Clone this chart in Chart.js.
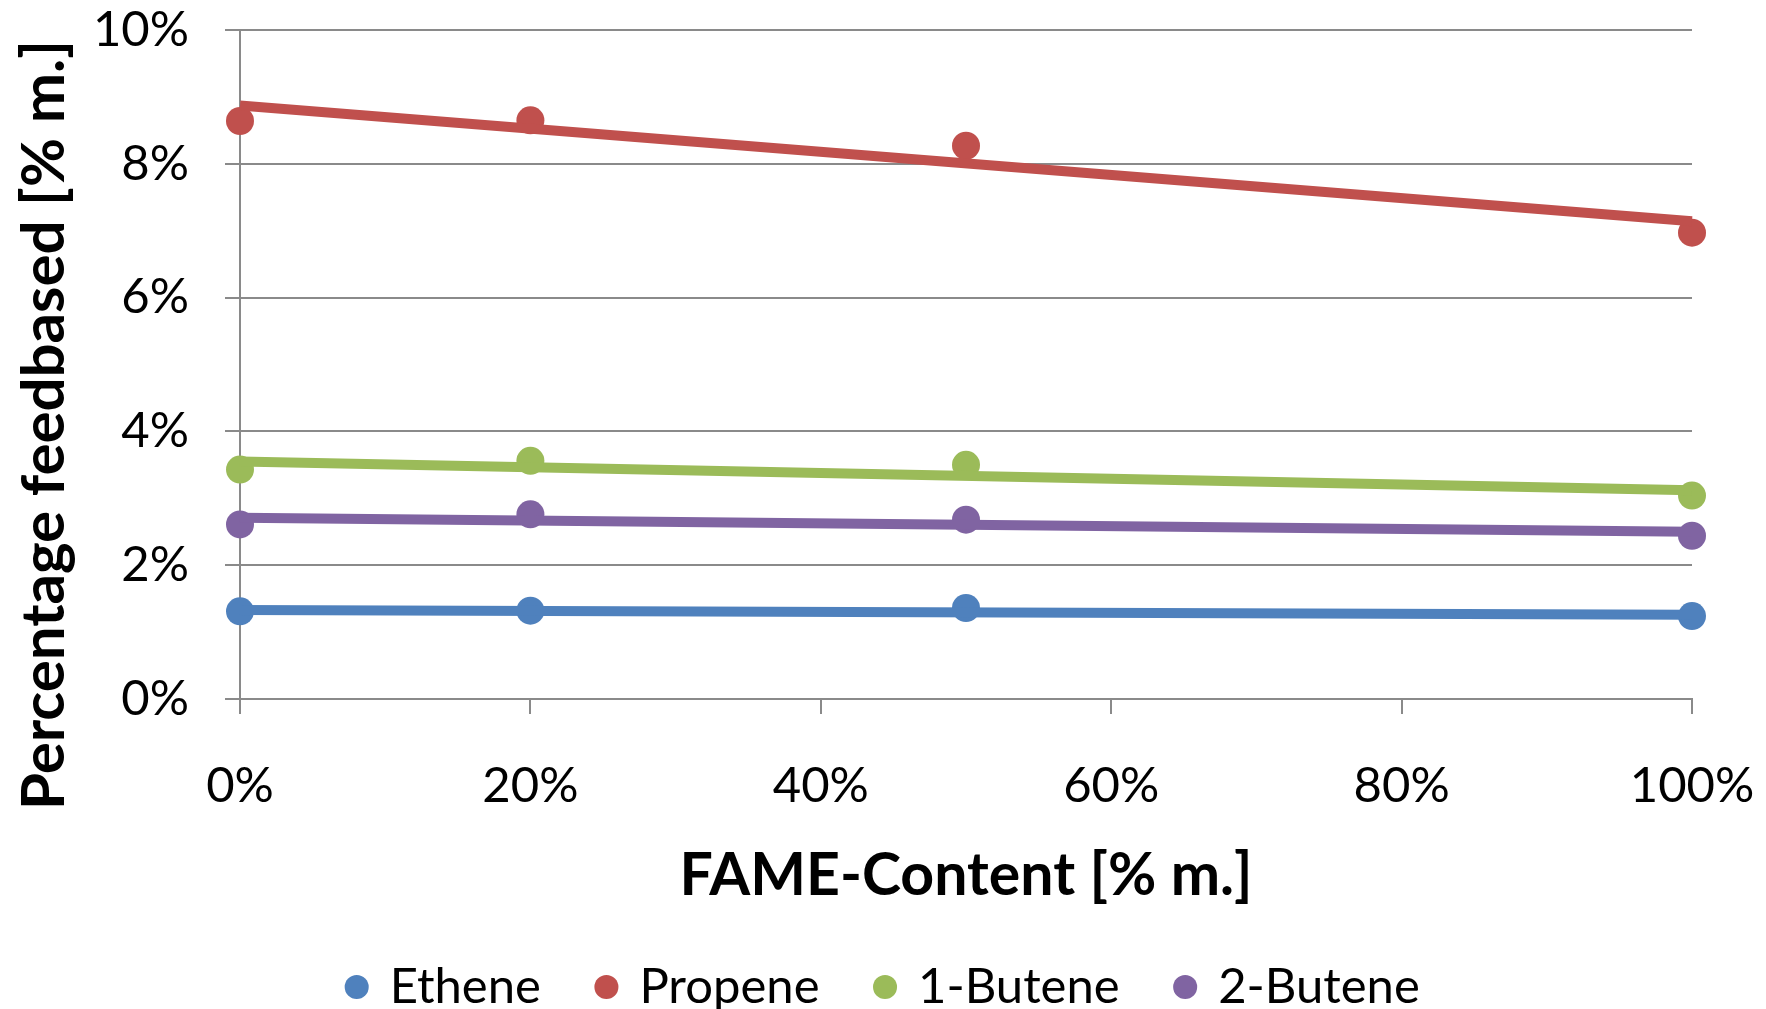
<!DOCTYPE html>
<html>
<head>
<meta charset="utf-8">
<script src="https://cdn.jsdelivr.net/npm/chart.js@4/dist/chart.umd.min.js"></script>
<style>
  html, body { margin: 0; padding: 0; background: #fff; }
  #wrap { width: 1766px; height: 1009px; }
</style>
</head>
<body>
<div id="wrap"><canvas id="c" width="1766" height="1009"></canvas></div>
<script>
// FAME content of the feed [% m.]
const fameContent = [0, 20, 50, 100];

// Measured olefin yields, feed based [% m.]
const ethene  = [1.31, 1.32, 1.36, 1.24];
const propene = [8.64, 8.65, 8.27, 6.97];
const butene1 = [3.43, 3.56, 3.50, 3.04];
const butene2 = [2.61, 2.76, 2.68, 2.44];

// Linear trend lines, start and end values
const trendX       = [0, 100];
const etheneTrend  = [1.33, 1.26];
const propeneTrend = [8.87, 7.14];
const butene1Trend = [3.55, 3.12];
const butene2Trend = [2.71, 2.50];

const seriesNames = ['Ethene', 'Propene', '1-Butene', '2-Butene'];
const seriesColors = ['#4F81BD', '#C0504D', '#9BBB59', '#8064A2'];

const xTicks = [0, 20, 40, 60, 80, 100];
const yTicks = [0, 2, 4, 6, 8, 10];

const measured = [ethene, propene, butene1, butene2];
const trends = [etheneTrend, propeneTrend, butene1Trend, butene2Trend];

const toPoints = (xs, ys) => xs.map((x, i) => ({ x: x, y: ys[i] }));

const datasets = [];
measured.forEach((vals, i) => {
  datasets.push({
    type: 'scatter',
    label: seriesNames[i],
    data: toPoints(fameContent, vals),
    backgroundColor: seriesColors[i],
    borderColor: seriesColors[i],
    borderWidth: 0,
    pointStyle: 'circle',
    pointRadius: 14,
    pointHoverRadius: 14,
    clip: false,
    order: 2
  });
});
trends.forEach((vals, i) => {
  datasets.push({
    type: 'line',
    label: seriesNames[i] + ' trend',
    isTrend: true,
    data: toPoints(trendX, vals),
    borderColor: seriesColors[i],
    backgroundColor: seriesColors[i],
    borderWidth: 10,
    pointRadius: 0,
    fill: false,
    tension: 0,
    clip: false,
    order: 1
  });
});

// Rotated y-axis title, placed on the left margin
const yTitlePlugin = {
  id: 'yTitle',
  afterDraw(chart) {
    const ctx = chart.ctx;
    ctx.save();
    ctx.translate(45, 425);
    ctx.rotate(-Math.PI / 2);
    ctx.font = 'bold 60px Lato';
    ctx.fillStyle = '#000';
    ctx.textAlign = 'center';
    ctx.textBaseline = 'middle';
    ctx.fillText('Percentage feedbased [% m.]', 0, 0);
    ctx.restore();
  }
};

// Scales keep their fixed box sizes; label overhang is handled by the layout padding
const noScalePadding = (scale) => {
  scale.paddingTop = 0;
  scale.paddingBottom = 0;
  scale.paddingLeft = 0;
  scale.paddingRight = 0;
};

const gridGrey = '#8a8a8a';

new Chart(document.getElementById('c'), {
  data: { datasets: datasets },
  options: {
    responsive: false,
    animation: false,
    devicePixelRatio: 1,
    layout: { autoPadding: false, padding: { left: 76, right: 74, top: 30, bottom: -12.5 } },
    plugins: {
      tooltip: { enabled: false },
      legend: {
        position: 'bottom',
        labels: {
          filter: (item, data) => !data.datasets[item.datasetIndex].isTrend,
          usePointStyle: true,
          pointStyle: 'circle',
          boxWidth: 17,
          boxHeight: 17,
          padding: 57,
          color: '#000',
          font: { family: 'Lato', size: 49 }
        }
      }
    },
    scales: {
      x: {
        type: 'linear',
        min: 0,
        max: 100,
        afterBuildTicks: (scale) => { scale.ticks = xTicks.map(v => ({ value: v })); },
        afterFit: (scale) => { scale.height = 206.5; noScalePadding(scale); },
        ticks: {
          callback: (v) => v + '%',
          color: '#000',
          padding: 43,
          maxRotation: 0,
          font: { family: 'Lato', size: 49 }
        },
        grid: {
          drawOnChartArea: false,
          drawTicks: true,
          tickLength: 15,
          color: gridGrey,
          lineWidth: 2
        },
        border: { display: true, color: gridGrey, width: 2 },
        title: {
          display: true,
          text: 'FAME-Content [% m.]',
          color: '#000',
          font: { family: 'Lato', size: 59, weight: 'bold' },
          padding: { top: 0, bottom: -6 }
        }
      },
      y: {
        type: 'linear',
        min: 0,
        max: 10,
        afterBuildTicks: (scale) => { scale.ticks = yTicks.map(v => ({ value: v })); },
        afterFit: (scale) => { scale.width = 164; noScalePadding(scale); },
        ticks: {
          callback: (v) => v + '%',
          color: '#000',
          padding: 36,
          font: { family: 'Lato', size: 49 }
        },
        grid: {
          drawOnChartArea: true,
          drawTicks: true,
          tickLength: 15,
          color: gridGrey,
          lineWidth: 2
        },
        border: { display: true, color: gridGrey, width: 2 }
      }
    }
  },
  plugins: [yTitlePlugin]
});
</script>
</body>
</html>
